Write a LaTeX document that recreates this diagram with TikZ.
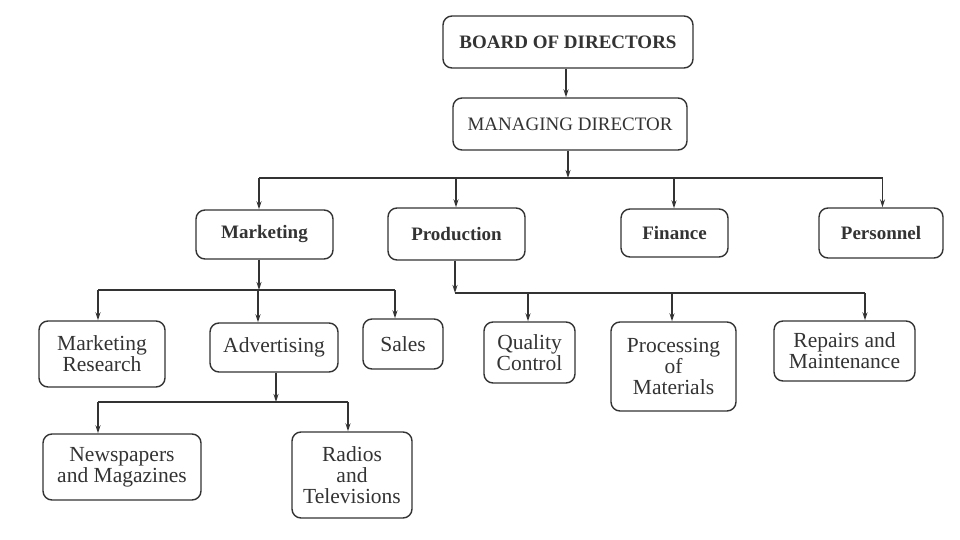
\documentclass[tikz,border=0pt]{standalone}
\usepackage{fontspec}
\setmainfont{Liberation Serif}
\usetikzlibrary{arrows.meta}
\definecolor{ink}{HTML}{333333}
\begin{document}
\begin{tikzpicture}[x=1pt,y=-1pt,
  box/.style={draw=ink, line width=1.4pt, rounded corners=9pt, inner sep=0pt, align=center, text=ink},
  topbox/.style={box, font=\bfseries\fontsize{19}{21}\selectfont},
  subbox/.style={box, font=\fontsize{21.5}{21}\selectfont},
  link/.style={draw=ink, line width=1.4pt},
  arr/.style={link, -{Stealth[length=8pt,width=5pt]}}]
\useasboundingbox[fill=white] (0,0) rectangle (960,540);
% nodes
\node[topbox, minimum width=250pt, minimum height=52pt] (bod) at (568,42) {BOARD OF DIRECTORS};
\node[box, font=\fontsize{19}{21}\selectfont, minimum width=234pt, minimum height=52pt] (md) at (570,124) {MANAGING DIRECTOR};
\node[topbox, minimum width=137pt, minimum height=49pt] (mkt) at (264.5,234.5) {Marketing};
\node[topbox, minimum width=137pt, minimum height=52pt] (prod) at (456.5,234) {Production};
\node[topbox, minimum width=107pt, minimum height=48pt] (fin) at (674.5,233) {Finance};
\node[topbox, minimum width=124pt, minimum height=50pt] (pers) at (881,233) {Personnel};
\node[subbox, minimum width=126pt, minimum height=66pt] (mr) at (102,354) {Marketing\\Research};
\node[subbox, minimum width=128pt, minimum height=49pt] (adv) at (274,347.5) {Advertising};
\node[subbox, minimum width=80pt, minimum height=50pt] (sales) at (403,344) {Sales};
\node[subbox, minimum width=158pt, minimum height=66pt] (news) at (122,467) {Newspapers\\and Magazines};
\node[subbox, minimum width=120pt, minimum height=86pt] (radio) at (352,475) {Radios\\and\\Televisions};
\node[subbox, minimum width=91pt, minimum height=61pt] (qc) at (529.5,352.5) {Quality\\Control};
\node[subbox, minimum width=125pt, minimum height=89pt] (proc) at (673.5,366.5) {Processing\\of\\Materials};
\node[subbox, minimum width=141pt, minimum height=60pt] (rep) at (844.5,351) {Repairs and\\Maintenance};
% bus coordinates
\coordinate (b1) at (568,178);
\coordinate (b2) at (259,290);
\coordinate (b3) at (455,293);
\coordinate (b4) at (276,402);
% top level
\draw[arr] ([xshift=-2pt]bod.south) -- ([xshift=-2pt]bod.south |- md.north);
\draw[arr] ([xshift=-2pt]md.south) -- (b1);
\draw[link] ([xshift=-5.5pt]mkt.north |- b1) -- ([xshift=1.5pt]pers.north |- b1);
\draw[arr] ([xshift=-5.5pt]mkt.north |- b1) -- ([xshift=-5.5pt]mkt.north);
\draw[arr] ([xshift=-0.5pt]prod.north |- b1) -- ([xshift=-0.5pt]prod.north);
\draw[arr] ([xshift=-0.5pt]fin.north |- b1) -- ([xshift=-0.5pt]fin.north);
\draw[arr] ([xshift=1.5pt]pers.north |- b1) -- ([xshift=1.5pt]pers.north);
% marketing
\draw[arr] ([xshift=-5.5pt]mkt.south) -- (b2);
\draw[link] ([xshift=-4pt]mr.north |- b2) -- ([xshift=-8pt]sales.north |- b2);
\draw[arr] ([xshift=-4pt]mr.north |- b2) -- ([xshift=-4pt]mr.north);
\draw[arr] ([xshift=-16pt]adv.north |- b2) -- ([xshift=-16pt]adv.north);
\draw[arr] ([xshift=-8pt]sales.north |- b2) -- ([xshift=-8pt]sales.north);
% advertising
\draw[arr] ([xshift=2pt]adv.south) -- (b4);
\draw[link] ([xshift=-24pt]news.north |- b4) -- ([xshift=-4pt]radio.north |- b4);
\draw[arr] ([xshift=-24pt]news.north |- b4) -- ([xshift=-24pt]news.north);
\draw[arr] ([xshift=-4pt]radio.north |- b4) -- ([xshift=-4pt]radio.north);
% production
\draw[arr] ([xshift=-1.5pt]prod.south) -- (b3);
\draw[link] (b3) -- ([xshift=20.5pt]rep.north |- b3);
\draw[arr] ([xshift=-1.5pt]qc.north |- b3) -- ([xshift=-1.5pt]qc.north);
\draw[arr] ([xshift=-1.5pt]proc.north |- b3) -- ([xshift=-1.5pt]proc.north);
\draw[arr] ([xshift=20.5pt]rep.north |- b3) -- ([xshift=20.5pt]rep.north);
\end{tikzpicture}
\end{document}
